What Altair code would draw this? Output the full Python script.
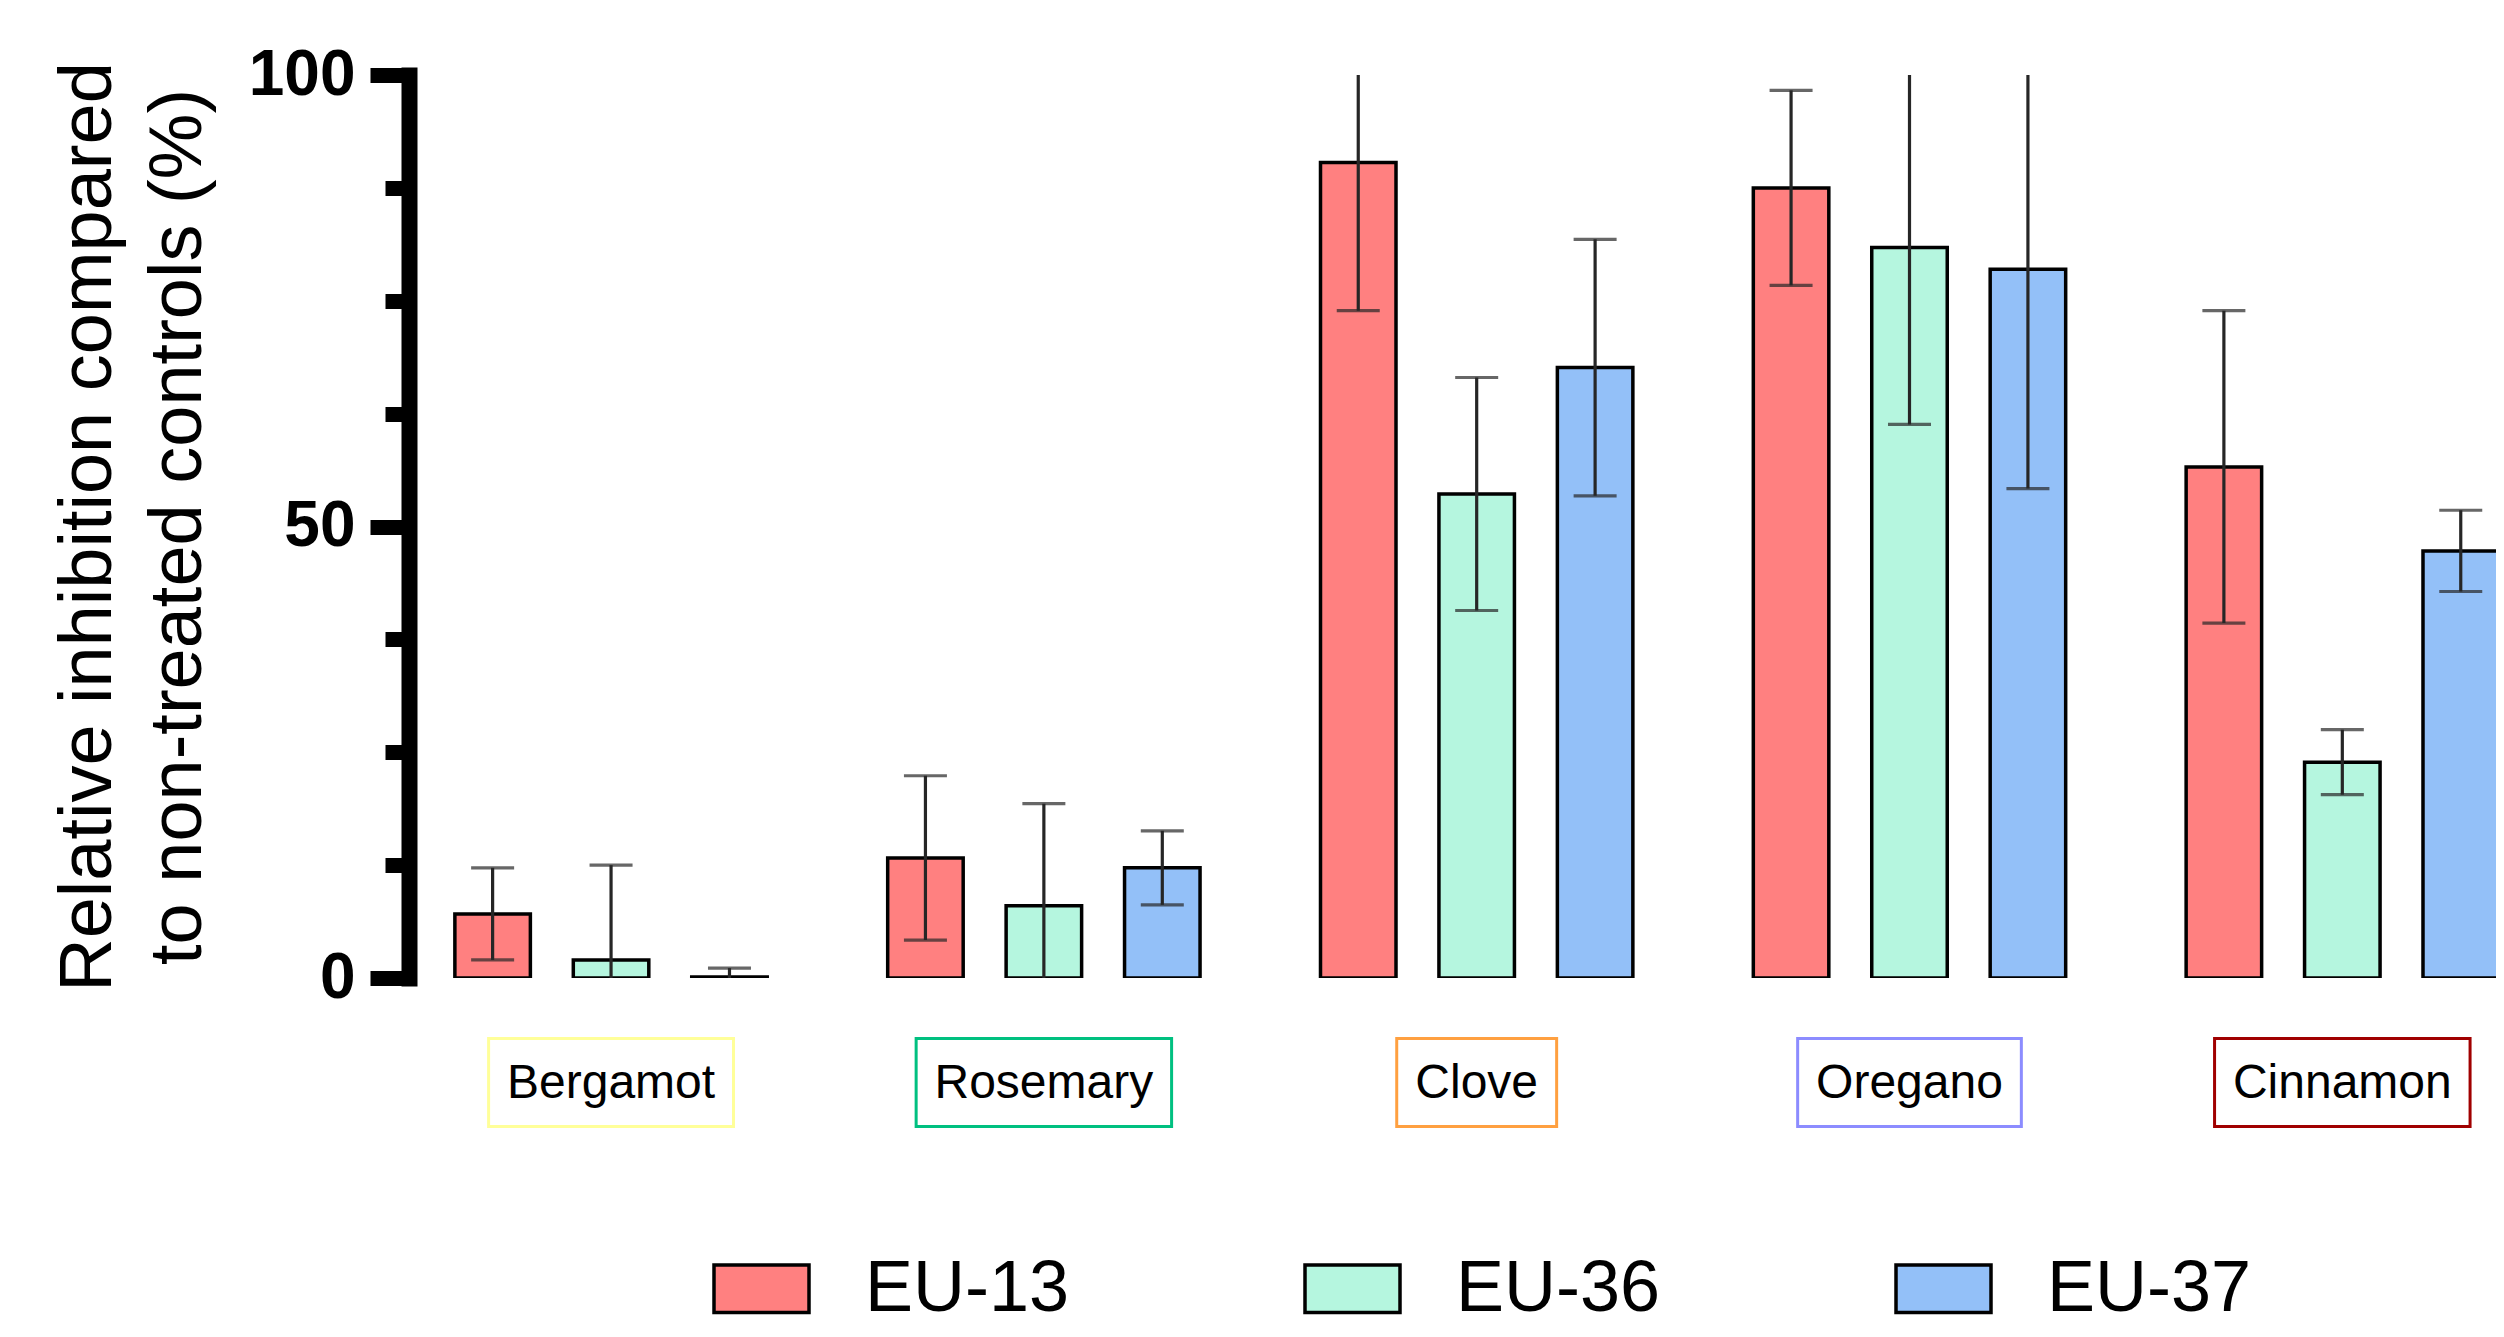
import altair as alt
import pandas as pd

# ---------------- data ----------------
oils = ["Bergamot", "Rosemary", "Clove", "Oregano", "Cinnamon"]
strains = ["EU-13", "EU-36", "EU-37"]

mean_eu13 = [7.1, 13.3, 90.3, 87.5, 56.6]
sd_eu13 = [5.1, 9.1, 16.4, 10.8, 17.3]
mean_eu36 = [2.0, 8.0, 53.6, 80.9, 23.9]
sd_eu36 = [10.5, 11.3, 12.9, 19.6, 3.6]
mean_eu37 = [0.1, 12.2, 67.6, 78.5, 47.3]
sd_eu37 = [1.0, 4.1, 14.2, 24.3, 4.5]

y_major = [0, 50, 100]
y_minor = [12.5, 25, 37.5, 62.5, 75, 87.5]

y_title = ["Relative inhibition compared", "to non-treated controls (%)"]

# ---------------- styles ----------------
bar_colors = ["#FF8080", "#B5F6DF", "#93C0F8"]
box_colors = ["#FFFF99", "#00C080", "#FFA040", "#8C8CFF", "#A00000"]
FONT = "Liberation Sans"

# ---------------- layout ----------------
W, H = 2087, 903
STEP_PX = 434.9          # pixels between oil groups
FIRST_PX = 198.0         # y axis to first group centre
SHIFT = 119.0 / STEP_PX  # bar offset inside a group
X_MIN = -FIRST_PX / STEP_PX
X_MAX = (W - FIRST_PX) / STEP_PX

ARIAL = {"B": 667, "e": 556, "r": 333, "g": 556, "a": 556, "m": 833, "o": 556,
         "t": 278, "R": 722, "s": 500, "y": 500, "C": 722, "l": 222, "v": 500,
         "O": 778, "n": 556, "i": 222}


def text_px(s, size):
    return sum(ARIAL.get(c, 556) for c in s) * size / 1000.0


rows = []
means = [mean_eu13, mean_eu36, mean_eu37]
sds = [sd_eu13, sd_eu36, sd_eu37]
for gi, oil in enumerate(oils):
    for si, st in enumerate(strains):
        m = means[si][gi]
        s = sds[si][gi]
        rows.append({"oil": oil, "strain": st, "x": gi + (si - 1) * SHIFT,
                     "value": m, "lo": m - s, "hi": m + s})
df = pd.DataFrame(rows)

lab = pd.DataFrame({"oil": oils, "idx": list(range(len(oils)))})
lab["half"] = [(text_px(o, 48) + 38) / 2 / STEP_PX for o in oils]
lab["x0"] = lab["idx"] - lab["half"]
lab["x1"] = lab["idx"] + lab["half"]

xscale = alt.Scale(domain=[X_MIN, X_MAX], nice=False, zero=False)
yscale = alt.Scale(domain=[0, 100], nice=False, zero=False)

bars = alt.Chart(df).mark_bar(
    width=75.5, stroke="black", strokeWidth=3.5, clip=True, fillOpacity=1
).encode(
    x=alt.X("x:Q", scale=xscale, axis=alt.Axis(
        values=list(range(len(oils))), labels=False, title=None, grid=False,
        tickSize=39, tickWidth=16, tickColor="black", domainColor="black",
        domainWidth=16, zindex=1)),
    y=alt.Y("value:Q", scale=yscale, axis=alt.Axis(
        orient="left", values=y_major, grid=False, title=y_title,
        titleFont=FONT, titleFontSize=74, titleFontWeight="normal",
        titleColor="black", titleAngle=270, titleX=-299, titleY=451.5,
        titleAlign="center", titleBaseline="alphabetic", titleLineHeight=90,
        labelFont=FONT, labelFontSize=64, labelFontWeight="bold",
        labelColor="black", labelPadding=15, tickSize=39, tickWidth=15,
        tickColor="black", domainColor="black", domainWidth=16,
        domainCap="square", zindex=1)),
    fill=alt.Fill("strain:N", scale=alt.Scale(domain=strains, range=bar_colors),
                  legend=alt.Legend(
                      orient="none", legendX=303, legendY=1164,
                      direction="horizontal", columns=3, title=None, padding=0,
                      symbolType="M-1,-0.5H1V0.5H-1Z", symbolSize=9025,
                      symbolStrokeColor="black", symbolStrokeWidth=3.5,
                      symbolOpacity=1, labelFont=FONT, labelFontSize=72,
                      labelColor="black", labelOffset=54, labelLimit=500,
                      columnPadding=228)),
)

err = alt.Chart(df).mark_rule(color="#262626", strokeWidth=3.2, clip=True).encode(
    x=alt.X("x:Q", scale=xscale, axis=None),
    y=alt.Y("lo:Q", scale=yscale, axis=alt.Axis(
        orient="left", values=y_minor, labels=False, title=None, domain=False,
        grid=False, tickSize=24, tickWidth=15, tickColor="black", zindex=1)),
    y2="hi:Q",
)

cap_hi = alt.Chart(df).mark_tick(
    orient="horizontal", size=43, thickness=3.2, color="#262626", clip=True
).encode(x=alt.X("x:Q", scale=xscale, axis=None),
         y=alt.Y("hi:Q", scale=yscale, axis=None))

cap_lo = alt.Chart(df).mark_tick(
    orient="horizontal", size=43, thickness=3.2, color="#262626", clip=True
).encode(x=alt.X("x:Q", scale=xscale, axis=None),
         y=alt.Y("lo:Q", scale=yscale, axis=None))

boxes = alt.Chart(lab).mark_rect(fillOpacity=0, strokeWidth=3).encode(
    x=alt.X("x0:Q", scale=xscale, axis=None),
    x2="x1:Q",
    y=alt.value(963.5),
    y2=alt.value(1051.5),
    stroke=alt.Stroke("oil:N", scale=alt.Scale(domain=oils, range=box_colors),
                      legend=None),
)

labels = alt.Chart(lab).mark_text(
    font=FONT, fontSize=48, color="black", align="center", baseline="middle"
).encode(
    x=alt.X("idx:Q", scale=xscale, axis=None),
    y=alt.value(1009),
    text="oil:N",
)

chart = alt.layer(bars, err, cap_hi, cap_lo, boxes, labels).resolve_axis(
    y="independent"
).properties(
    width=W, height=H,
    autosize=alt.AutoSizeParams(type="none"),
    padding={"left": 401, "top": 67, "right": 0, "bottom": 351},
    background="white",
).configure_view(stroke=None)

chart.save("out.html", embed_options={"renderer": "svg", "actions": False})
